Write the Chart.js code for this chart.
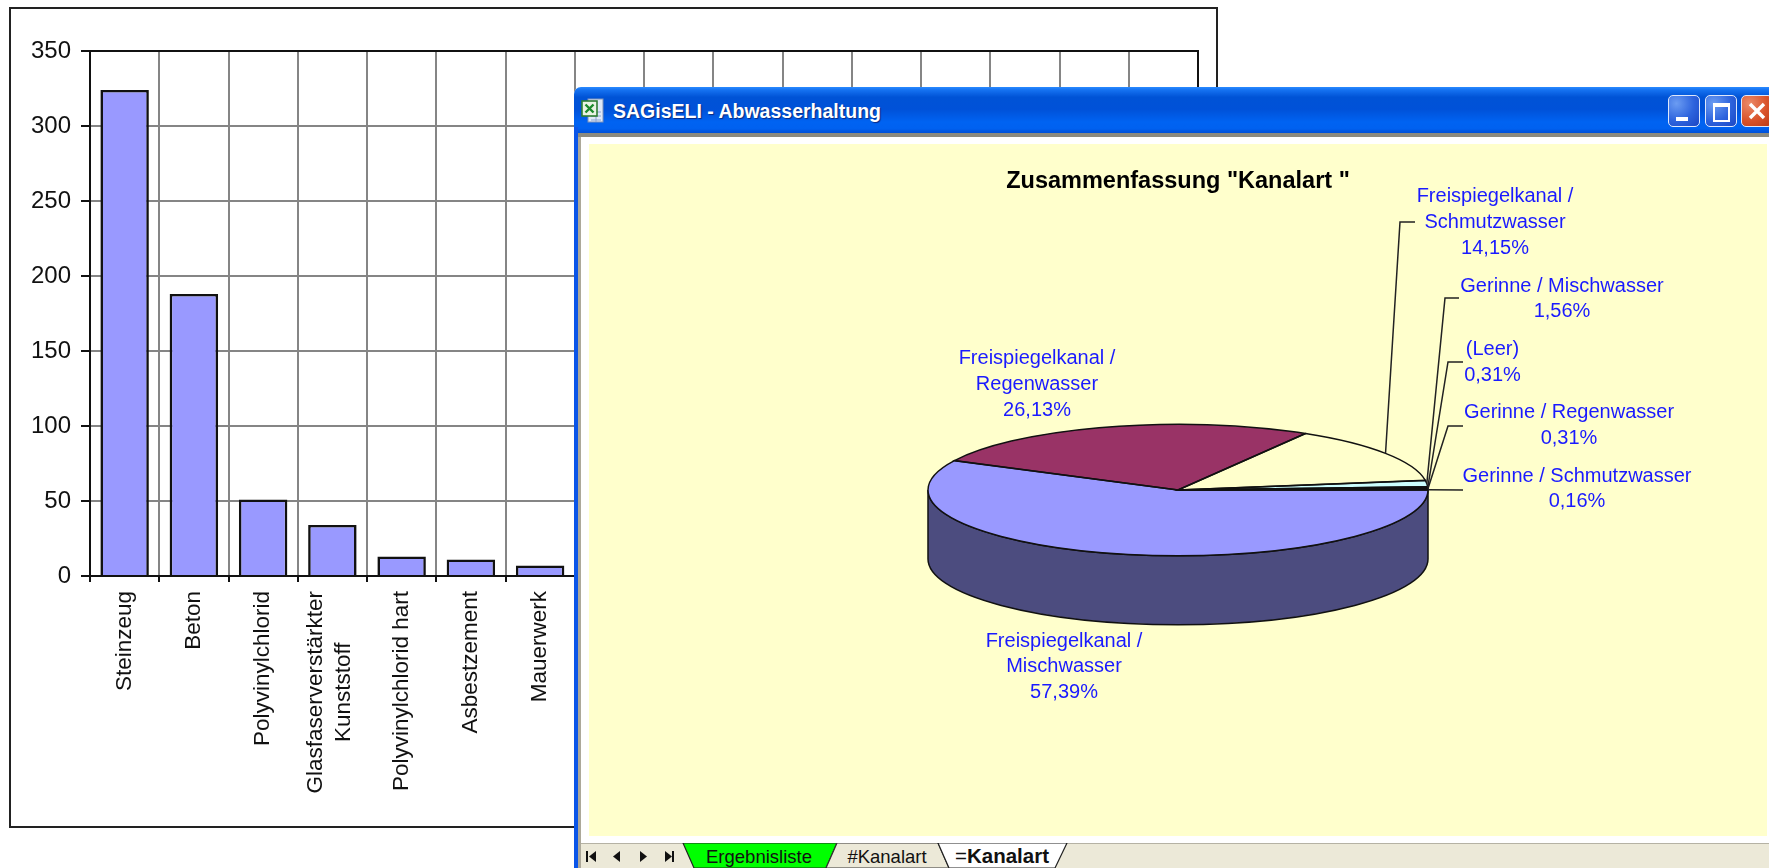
<!DOCTYPE html>
<html lang="de">
<head>
<meta charset="utf-8">
<title>SAGisELI - Abwasserhaltung</title>
<script src="https://cdn.jsdelivr.net/npm/chart.js@4"></script>
<style>
html,body{margin:0;padding:0;background:#fff;}
#page{position:relative;width:1769px;height:868px;overflow:hidden;background:#fff;filter:blur(0.45px);font-family:"Liberation Sans",Arial,sans-serif;}
#frame{position:absolute;left:9px;top:7px;width:1205px;height:817px;border:2px solid #222;box-sizing:content-box;}
#win{position:absolute;left:574px;top:87px;width:1195px;height:781px;border-radius:7px 0 0 0;overflow:hidden;background:#fff;}
#titlebar{position:absolute;left:0;top:0;right:0;height:46px;background:linear-gradient(to bottom,#2a8bff 0,#1673f2 6%,#0053d6 22%,#0051d8 48%,#0063f2 76%,#0061f0 90%,#0050d8 100%);}
#wintitle{position:absolute;left:39px;top:13px;font:bold 19.5px "Liberation Sans",Arial,sans-serif;color:#fff;text-shadow:1px 1px 1px #0a2a80;white-space:nowrap;}
#blueL{position:absolute;left:0;top:40px;bottom:0;width:4px;background:#0a55e8;}
#rule{position:absolute;left:4px;right:0;top:46px;height:4px;background:#8c8a7e;}
#grayL{position:absolute;left:4px;top:50px;bottom:0;width:3px;background:#aca899;}
#pieCanvas{position:absolute;left:15px;top:57px;background:#ffffcc;}
.btn{position:absolute;top:8px;width:30px;height:30px;border:1.5px solid #dfe8fb;border-radius:5px;background:radial-gradient(circle at 25% 25%,#6b9cf2 0,#2d63dd 55%,#1b46c4 100%);box-sizing:content-box;}
.btn.close{background:radial-gradient(circle at 25% 25%,#eb8a68 0,#d9522a 55%,#b93a17 100%);}
#tabbar{position:absolute;left:7px;right:0;top:756px;bottom:0;background:#ece9d8;border-top:1px solid #b5b2a4;}
svg{position:absolute;}
</style>
</head>
<body>
<div id="page">
  <div id="frame"></div>
  <canvas id="barCanvas" width="1217" height="827" style="position:absolute;left:0;top:0"></canvas>
  <div id="win">
    <div id="titlebar"></div>
    <svg style="left:7px;top:11px" width="24" height="26" viewBox="0 0 24 26">
      <rect x="7" y="1" width="15" height="23" fill="#dfe8f7" stroke="#7f93b8"/>
      <path d="M10 14h10M10 18h10M10 22h10M15 10v14" stroke="#8aa4d0" fill="none"/>
      <rect x="1" y="3" width="15" height="15" fill="#e9f3e4" stroke="#2f7d32" stroke-width="1.6"/>
      <path d="M4.5 6.5l8 8M12.5 6.5l-8 8" stroke="#1c8a2c" stroke-width="2.4"/>
    </svg>
    <div id="wintitle">SAGisELI - Abwasserhaltung</div>
    <div class="btn" style="left:1094px"><div style="position:absolute;left:7px;top:21px;width:12px;height:4px;background:#fff"></div></div>
    <div class="btn" style="left:1131px"><div style="position:absolute;left:7px;top:7px;width:13px;height:13px;border:2px solid #fff;border-top-width:4px"></div></div>
    <div class="btn close" style="left:1167px"><svg style="left:6px;top:6px" width="18" height="18"><path d="M2 2L16 16M16 2L2 16" stroke="#fff" stroke-width="3.4"/></svg></div>
    <div id="blueL"></div>
    <div id="rule"></div>
    <div id="grayL"></div>
    <canvas id="pieCanvas" width="1178" height="692"></canvas>
    <div id="tabbar"></div>
    <svg style="left:0;top:756px" width="600" height="25" viewBox="574 843 600 25">
      <g fill="#111">
        <rect x="586" y="851" width="2" height="11"/><path d="M596 851v11l-7-5.5z"/>
        <path d="M620 851v11l-7-5.5z"/>
        <path d="M640 851v11l7-5.5z"/>
        <path d="M665 851v11l7-5.5z"/><rect x="672" y="851" width="2" height="11"/>
      </g>
      <polygon points="683,843 837,843 826,868 694,868" fill="#00ff00" stroke="#222" stroke-width="1.2"/>
      <polygon points="837,843 938,843 949,868 826,868" fill="#ece9d8" stroke="#333" stroke-width="1.2"/>
      <polygon points="938,843 1067,843 1055,868 949,868" fill="#fff" stroke="#222" stroke-width="1.2"/>
      <text x="759" y="863" text-anchor="middle" font-family="Liberation Sans" font-size="18.5" fill="#111">Ergebnisliste</text>
      <text x="887" y="863" text-anchor="middle" font-family="Liberation Sans" font-size="18.5" fill="#111">#Kanalart</text>
      <text x="1002" y="863" text-anchor="middle" font-family="Liberation Sans" font-size="20.5" fill="#111">=<tspan font-weight="bold">Kanalart</tspan></text>
    </svg>
  </div>
</div>
<script>
// ---------- Data ----------
// Bar chart: 16 categories; the last nine lie behind the Excel window and cannot be read.
const materials = ["Steinzeug", "Beton", "Polyvinylchlorid", ["Glasfaserverstärkter", "Kunststoff"],
  "Polyvinylchlorid hart", "Asbestzement", "Mauerwerk", "", "", "", "", "", "", "", "", ""];
const materialCounts = [324, 188, 51, 34, 13, 11, 7, null, null, null, null, null, null, null, null, null];

// Pie chart
const kanalNames = [
  ["Freispiegelkanal /", "Mischwasser"],
  ["Freispiegelkanal /", "Regenwasser"],
  ["Freispiegelkanal /", "Schmutzwasser"],
  ["Gerinne / Mischwasser"],
  ["(Leer)"],
  ["Gerinne / Regenwasser"],
  ["Gerinne / Schmutzwasser"]
];
const kanalShares = [57.39, 26.13, 14.15, 1.56, 0.31, 0.31, 0.16];
const kanalColors = ["#9999ff", "#993366", "#ffffcc", "#ccffff", "#660066", "#ff8080", "#0066cc"];

// ---------- Layout of the pie labels (canvas pixels), kept apart from the data ----------
const labelLayout = [
  {x: 475, y: 497},
  {x: 448, y: 214.5},
  {x: 906, y: 52.5,  elbow: [811, 78],  end: [826, 78]},
  {x: 973, y: 142, elbow: [856, 154], end: [870, 154]},
  {x: 903.5, y: 205.5, elbow: [859, 218], end: [874, 218]},
  {x: 980, y: 268.7, elbow: [859, 282], end: [874, 282]},
  {x: 988, y: 332, end: [874, 346]}
];
const FONT = '"Liberation Sans", Arial, sans-serif';
const TILT = 0.2625, DEPTH = 69;

// ---------- Bar chart ----------
const centerMultilineTicks = {
  id: 'centerMultilineTicks',
  beforeDraw(chart) {
    const scale = chart.scales.x, ctx = chart.ctx;
    scale.getLabelItems().forEach(item => {
      if (!Array.isArray(item.label) || item.done) return;
      ctx.save();
      ctx.font = item.font.string;
      const w = Math.max(...item.label.map(t => ctx.measureText(t).width));
      ctx.restore();
      item.options.textAlign = 'center';
      item.options.translation[1] += w / 2;
      item.textOffset = -2.6;
      item.done = true;
    });
  }
};
const plotBorder = {
  id: 'plotBorder',
  afterDatasetsDraw(chart) {
    const {ctx, chartArea: a} = chart;
    ctx.save();
    ctx.strokeStyle = '#111';
    ctx.lineWidth = 2;
    ctx.beginPath();
    ctx.moveTo(a.left, a.top); ctx.lineTo(a.right, a.top); ctx.lineTo(a.right, a.bottom);
    ctx.stroke();
    ctx.restore();
  }
};
new Chart(document.getElementById('barCanvas'), {
  type: 'bar',
  data: {labels: materials, datasets: [{
    data: materialCounts, backgroundColor: '#9999ff', borderColor: '#111', borderWidth: 2.6,
    barPercentage: 0.7, categoryPercentage: 1
  }]},
  plugins: [centerMultilineTicks, plotBorder],
  options: {
    responsive: false, animation: false,
    layout: {padding: {top: 51, right: 19, left: 0, bottom: 0}},
    plugins: {legend: {display: false}, tooltip: {enabled: false}},
    scales: {
      x: {
        afterFit(s) { s.height = 251; },
        grid: {color: '#858585', lineWidth: 2, tickLength: 6, tickColor: '#111', tickWidth: 2, offset: true},
        border: {color: '#111', width: 2},
        ticks: {autoSkip: false, minRotation: 90, maxRotation: 90, padding: 9, color: '#111',
          font: {family: FONT, size: 22.5, lineHeight: 1.276}}
      },
      y: {
        min: 0, max: 350,
        afterFit(s) { s.width = 90; },
        grid: {color: '#858585', lineWidth: 2, tickLength: 9, tickColor: '#111', tickWidth: 2},
        border: {color: '#111', width: 2},
        ticks: {stepSize: 50, padding: 10, color: '#111', font: {family: FONT, size: 24}}
      }
    }
  }
});

// ---------- Tilted pie chart ----------
function halfTone(hex) {
  const n = parseInt(hex.slice(1), 16);
  return `rgb(${(n >> 16) / 2 | 0},${((n >> 8) & 255) / 2 | 0},${(n & 255) / 2 | 0})`;
}
function geometry(chart) {
  const arcs = chart.getDatasetMeta(0).data;
  const rx = arcs[0].outerRadius;
  return {arcs, cx: arcs[0].x, cy: arcs[0].y, rx, ry: rx * TILT};
}
const tiltPie = {
  id: 'tiltPie',
  beforeDatasetDraw(chart) {
    const {cx, cy, ry, rx, arcs} = geometry(chart), ctx = chart.ctx;
    // side wall: only the part of each slice that faces the viewer
    arcs.forEach((arc, i) => {
      const a0 = Math.max(arc.startAngle, 0), a1 = Math.min(arc.endAngle, Math.PI);
      if (a1 <= a0) return;
      ctx.save();
      ctx.beginPath();
      ctx.ellipse(cx, cy, rx, ry, 0, a0, a1);
      ctx.ellipse(cx, cy + DEPTH, rx, ry, 0, a1, a0, true);
      ctx.closePath();
      ctx.fillStyle = halfTone(kanalColors[i]);
      ctx.fill();
      ctx.strokeStyle = '#111';
      ctx.lineWidth = 1.5;
      ctx.stroke();
      ctx.restore();
    });
    ctx.save();
    ctx.translate(cx, cy);
    ctx.scale(1, TILT);
    ctx.translate(-cx, -cy);
  },
  afterDatasetDraw(chart) {
    const ctx = chart.ctx;
    ctx.restore();
    const {cx, cy, rx, ry, arcs} = geometry(chart);
    ctx.save();
    ctx.strokeStyle = '#111';
    ctx.lineWidth = 1.5;
    arcs.forEach(arc => {
      ctx.beginPath();
      ctx.moveTo(cx, cy);
      ctx.ellipse(cx, cy, rx, ry, 0, arc.startAngle, arc.endAngle);
      ctx.closePath();
      ctx.stroke();
    });
    ctx.restore();
  },
  afterDatasetsDraw(chart) {
    const {cx, cy, rx, ry, arcs} = geometry(chart), ctx = chart.ctx;
    ctx.save();
    arcs.forEach((arc, i) => {
      const p = labelLayout[i];
      if (p.end) {
        const mid = (arc.startAngle + arc.endAngle) / 2;
        ctx.beginPath();
        ctx.moveTo(cx + rx * Math.cos(mid), cy + ry * Math.sin(mid));
        if (p.elbow) ctx.lineTo(p.elbow[0], p.elbow[1]);
        ctx.lineTo(p.end[0], p.end[1]);
        ctx.strokeStyle = '#222';
        ctx.lineWidth = 1.5;
        ctx.stroke();
      }
      const lines = kanalNames[i].concat(kanalShares[i].toFixed(2).replace('.', ',') + '%');
      ctx.font = '20px ' + FONT;
      ctx.fillStyle = '#1a1aff';
      ctx.textAlign = 'center';
      ctx.textBaseline = 'middle';
      lines.forEach((t, k) => ctx.fillText(t, p.x, p.y + k * 25.8));
    });
    ctx.restore();
  }
};
new Chart(document.getElementById('pieCanvas'), {
  type: 'pie',
  data: {labels: kanalNames.map(n => n.join(' ')), datasets: [{
    data: kanalShares, backgroundColor: kanalColors, borderWidth: 0
  }]},
  plugins: [tiltPie],
  options: {
    responsive: false, animation: false, rotation: 90,
    layout: {padding: {top: 0, bottom: 96, left: 0, right: 0}},
    plugins: {
      legend: {display: false}, tooltip: {enabled: false},
      title: {
        display: true, text: 'Zusammenfassung "Kanalart "', color: '#000',
        font: {family: FONT, size: 23.5, weight: 'bold', lineHeight: 1.2},
        padding: {top: 23, bottom: 44.8}
      }
    }
  }
});
</script>
</body>
</html>
